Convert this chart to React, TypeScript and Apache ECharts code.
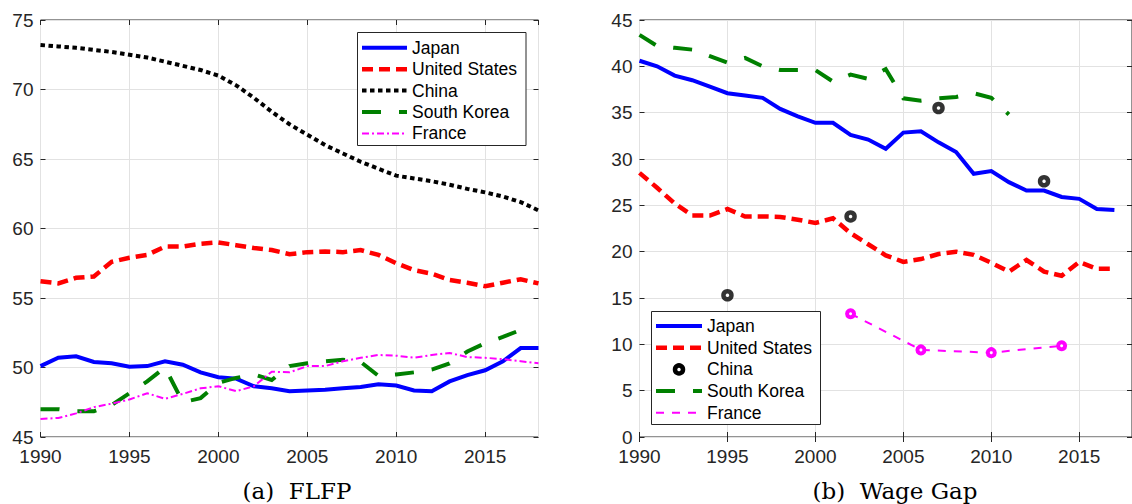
import React, { useEffect, useRef } from "react";
import * as echarts from "echarts";

// ---------- DATA ----------
const flfpYears = [1990, 1991, 1992, 1993, 1994, 1995, 1996, 1997, 1998, 1999, 2000, 2001, 2002, 2003, 2004, 2005, 2006, 2007, 2008, 2009, 2010, 2011, 2012, 2013, 2014, 2015, 2016, 2017, 2018];
const flfpJapan = [50.1, 50.7, 50.8, 50.4, 50.3, 50.05, 50.1, 50.45, 50.2, 49.65, 49.3, 49.2, 48.65, 48.5, 48.3, 48.35, 48.4, 48.5, 48.6, 48.8, 48.7, 48.35, 48.3, 49.0, 49.45, 49.8, 50.45, 51.4, 51.4];
const flfpUS = [56.2, 56.05, 56.45, 56.55, 57.6, 57.9, 58.1, 58.7, 58.7, 58.9, 59.0, 58.8, 58.6, 58.45, 58.15, 58.3, 58.35, 58.3, 58.45, 58.1, 57.5, 57.0, 56.75, 56.3, 56.1, 55.85, 56.1, 56.35, 56.05];
const flfpChina = [73.2, 73.1, 73.0, 72.85, 72.7, 72.5, 72.3, 72.0, 71.7, 71.4, 71.0, 70.3, 69.4, 68.4, 67.5, 66.75, 66.0, 65.4, 64.8, 64.3, 63.8, 63.6, 63.4, 63.15, 62.85, 62.6, 62.3, 61.9, 61.3];
const flfpKorea = [47.0, 47.0, 46.85, 46.85, 47.3, 48.15, 49.0, 50.0, 47.5, 47.8, 48.9, 49.25, 49.5, 49.1, 50.1, 50.3, 50.45, 50.55, 50.4, 49.4, 49.5, 49.65, 49.85, 50.3, 51.15, 51.75, 52.2, 52.7, null];
const flfpFrance = [46.3, 46.37, 46.7, 47.15, 47.4, 47.7, 48.15, 47.75, 48.1, 48.5, 48.65, 48.3, 48.65, 49.7, 49.65, 50.1, 50.1, 50.45, 50.7, 50.9, 50.85, 50.7, 50.9, 51.05, 50.75, 50.7, 50.6, 50.45, 50.3];

const gapYears = [1990, 1991, 1992, 1993, 1994, 1995, 1996, 1997, 1998, 1999, 2000, 2001, 2002, 2003, 2004, 2005, 2006, 2007, 2008, 2009, 2010, 2011, 2012, 2013, 2014, 2015, 2016, 2017];
const gapJapan = [40.6, 40.0, 39.0, 38.5, 37.8, 37.1, 36.85, 36.6, 35.4, 34.6, 33.9, 33.9, 32.6, 32.1, 31.1, 32.85, 33.0, 31.8, 30.75, 28.4, 28.7, 27.5, 26.6, 26.6, 25.9, 25.7, 24.6, 24.5];
const gapUS = [28.5, 26.9, 25.2, 23.9, 23.9, 24.6, 23.8, 23.8, 23.75, 23.45, 23.1, 23.6, 22.0, 20.8, 19.6, 18.9, 19.2, 19.75, 20.0, 19.65, 18.8, 17.85, 19.1, 17.85, 17.4, 18.9, 18.15, 18.15];
const gapKorea = [43.4, 42.2, 42.0, 41.8, 41.1, 40.4, 40.9, 40.0, 39.6, 39.6, 39.6, 38.35, 39.1, 38.65, 39.7, 36.55, 36.3, 36.55, 36.7, 37.1, 36.6, 34.8];
const gapChinaYears = [1995, 2002, 2007, 2013];
const gapChina = [15.3, 23.8, 35.5, 27.6];
const gapFranceYears = [2002, 2006, 2010, 2014];
const gapFrance = [13.3, 9.4, 9.1, 9.85];

const legendNames = ["Japan", "United States", "China", "South Korea", "France"];
const captions = ["(a)  FLFP", "(b)  Wage Gap"];

// ---------- STYLE ----------
const C = { jp: "#0000ff", us: "#ff0000", cn: "#000000", kr: "#008000", fr: "#ff00ff" };
const AX = "#262626";
const GRIDC = "#e2e2e2";
const SANS = '"Liberation Sans", Arial, sans-serif';

const pairs = (xs: number[], ys: (number | null)[]) => xs.map((x, i) => [x, ys[i]]);

function xAxes(gi: number) {
  const base = {
    gridIndex: gi, type: "value", min: 1990, max: 2018, interval: 5,
    axisLine: { show: false },
    axisTick: { show: true, inside: true, length: 5, lineStyle: { color: AX, width: 1 } },
  };
  return [
    {
      ...base, position: "bottom",
      axisLabel: { show: true, color: AX, fontSize: 19, lineHeight: 16, fontFamily: SANS, margin: 11, showMaxLabel: false, formatter: (v: number) => String(v) },
      splitLine: { show: true, lineStyle: { color: GRIDC, width: 1 } },
    },
    { ...base, position: "top", axisLabel: { show: false }, splitLine: { show: false } },
  ];
}
function yAxes(gi: number, min: number, max: number) {
  const base = {
    gridIndex: gi, type: "value", min, max, interval: 5,
    axisLine: { show: false },
    axisTick: { show: true, inside: true, length: 5, lineStyle: { color: AX, width: 1 } },
  };
  return [
    {
      ...base, position: "left",
      axisLabel: { show: true, color: AX, fontSize: 19, lineHeight: 16, fontFamily: SANS, margin: 7, formatter: (v: number) => String(v) },
      splitLine: { show: true, lineStyle: { color: GRIDC, width: 1 } },
    },
    { ...base, position: "right", axisLabel: { show: false }, splitLine: { show: false } },
  ];
}

function lineSeries(name: string, xi: number, yi: number, data: any[], color: string, width: number, dash: number[] | "solid", extra: any = {}) {
  return {
    name, type: "line", xAxisIndex: xi, yAxisIndex: yi, data,
    symbol: "none", showSymbol: false, silent: true, connectNulls: false,
    lineStyle: { color, width, type: dash, cap: "butt", join: "miter" },
    emphasis: { disabled: true },
    z: 3,
    ...extra,
  };
}

type LegendStyle = { color: string; width: number; dash: number[] | null; marker?: boolean; line?: boolean };

function legendGraphic(bx: number, by: number, bw: number, bh: number, rowY0: number, rowDy: number, sx0: number, sx1: number, tx: number, styles: LegendStyle[]) {
  const els: any[] = [
    { type: "rect", z: 100, shape: { x: bx, y: by, width: bw, height: bh }, style: { fill: "#ffffff", stroke: AX, lineWidth: 1 } },
  ];
  styles.forEach((s, i) => {
    const y = rowY0 + i * rowDy;
    if (s.line !== false) {
      els.push({
        type: "line", z: 101,
        shape: { x1: sx0, y1: y, x2: sx1, y2: y },
        style: { stroke: s.color, lineWidth: s.width, lineDash: s.dash || undefined, lineCap: "butt" },
      });
    }
    if (s.marker) {
      els.push({
        type: "circle", z: 102,
        shape: { cx: (sx0 + sx1) / 2, cy: y, r: 4 },
        style: { fill: "#ffffff", stroke: s.color, lineWidth: 4.5 },
      });
    }
    els.push({
      type: "text", z: 102, x: tx, y,
      style: { text: legendNames[i], fill: "#000000", fontSize: 17.5, fontFamily: SANS, align: "left", verticalAlign: "middle" },
    });
  });
  return els;
}

export default function App() {
  const ref = useRef<HTMLDivElement>(null);
  useEffect(() => {
    if (!ref.current) return;
    const chart = echarts.init(ref.current, undefined, { renderer: "svg" });
    const usDash = [11, 6];
    const cnDash = [4.5, 3.5];
    const krDash = [19, 18];
    const frDashA = [7, 3, 2, 3];
    const frDashB = [8, 8];

    const option: any = {
      animation: false,
      backgroundColor: "#ffffff",
      grid: [
        { left: 40.5, top: 20, width: 498, height: 417, show: true, borderColor: AX, borderWidth: 1, backgroundColor: "transparent", containLabel: false },
        { left: 639.5, top: 20, width: 499, height: 417, show: true, borderColor: AX, borderWidth: 1, backgroundColor: "transparent", containLabel: false },
      ],
      xAxis: [...xAxes(0), ...xAxes(1)],
      yAxis: [...yAxes(0, 45, 75), ...yAxes(1, 0, 45)],
      series: [
        lineSeries("Japan", 0, 0, pairs(flfpYears, flfpJapan), C.jp, 4, "solid"),
        lineSeries("United States", 0, 0, pairs(flfpYears, flfpUS), C.us, 4.5, usDash),
        lineSeries("China", 0, 0, pairs(flfpYears, flfpChina), C.cn, 4, cnDash),
        lineSeries("South Korea", 0, 0, pairs(flfpYears, flfpKorea), C.kr, 4, krDash),
        lineSeries("France", 0, 0, pairs(flfpYears, flfpFrance), C.fr, 2, frDashA),

        lineSeries("Japan", 2, 2, pairs(gapYears, gapJapan), C.jp, 4, "solid"),
        lineSeries("United States", 2, 2, pairs(gapYears, gapUS), C.us, 4.5, usDash),
        {
          name: "China", type: "scatter", xAxisIndex: 2, yAxisIndex: 2, silent: true,
          data: pairs(gapChinaYears, gapChina), symbol: "circle", symbolSize: 8,
          itemStyle: { color: "#ffffff", borderColor: C.cn, borderWidth: 4.5 },
          emphasis: { disabled: true }, z: 4,
        },
        lineSeries("South Korea", 2, 2, pairs(gapYears.slice(0, gapKorea.length), gapKorea), C.kr, 4, krDash),
        lineSeries("France", 2, 2, pairs(gapFranceYears, gapFrance), C.fr, 2, frDashB, {
          symbol: "circle", showSymbol: true, symbolSize: 7,
          itemStyle: { color: "#ffffff", borderColor: C.fr, borderWidth: 4 },
        }),
      ],
      graphic: [
        ...legendGraphic(357.5, 32.5, 168.5, 113, 47.8, 21.4, 362, 407, 412, [
          { color: C.jp, width: 4, dash: null },
          { color: C.us, width: 4.5, dash: usDash },
          { color: C.cn, width: 4, dash: cnDash },
          { color: C.kr, width: 4, dash: krDash },
          { color: C.fr, width: 2, dash: frDashA },
        ]),
        ...legendGraphic(651.5, 311.5, 169, 113, 326, 21.7, 656, 702, 707, [
          { color: C.jp, width: 4, dash: null },
          { color: C.us, width: 4.5, dash: usDash },
          { color: C.cn, width: 4.5, dash: null, marker: true, line: false },
          { color: C.kr, width: 4, dash: krDash },
          { color: C.fr, width: 2, dash: frDashB },
        ]),
        {
          type: "text", z: 100, x: 297, y: 491,
          style: { text: captions[0], fill: "#000000", fontSize: 23, fontFamily: '"DejaVu Serif", serif', align: "center", verticalAlign: "middle" },
        },
        {
          type: "text", z: 100, x: 895, y: 491,
          style: { text: captions[1], fill: "#000000", fontSize: 23, fontFamily: '"DejaVu Serif", serif', align: "center", verticalAlign: "middle" },
        },
      ],
    };
    chart.setOption(option);
    return () => chart.dispose();
  }, []);

  return (
    <div style={{ position: "fixed", left: 0, top: 0, width: 1132, height: 504, background: "#ffffff", overflow: "hidden" }}>
      <div ref={ref} style={{ width: 1132, height: 504 }} />
    </div>
  );
}
